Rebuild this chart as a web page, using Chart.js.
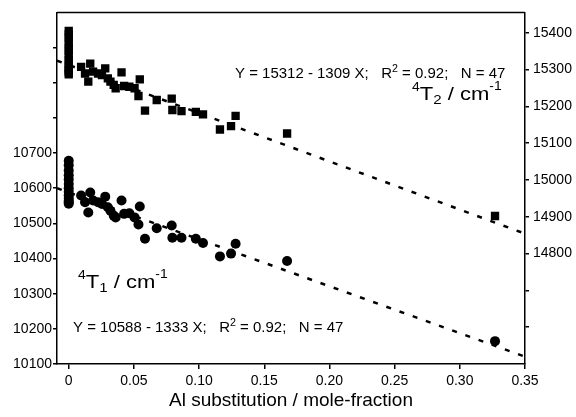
<!DOCTYPE html>
<html>
<head>
<meta charset="utf-8">
<script src="https://cdn.jsdelivr.net/npm/chart.js@4/dist/chart.umd.min.js"></script>
<style>
  html, body { margin: 0; padding: 0; background: #fff; }
</style>
</head>
<body>
<canvas id="myChart" width="576" height="417"></canvas>
<script>
// Al substitution (mole fraction) for each sample
var alX = [
    0, 0, 0, 0, 0, 0, 0, 0, 0, 0, 0, 0, 0,
    0.0095, 0.0125, 0.0150, 0.0165, 0.0187, 0.0225, 0.0255, 0.0280, 0.0300, 0.0320,
    0.0345, 0.0360, 0.0405, 0.0425, 0.0465, 0.0505, 0.0535, 0.0545, 0.0585, 0.0675,
    0.0790, 0.0795, 0.0865, 0.0975, 0.1030, 0.1160, 0.1245, 0.1280, 0.1675, 0.3270
];
// 4T2 band position, cm-1 (right axis, squares)
var t2 = [
    15405, 15395, 15385, 15372, 15360, 15350, 15338, 15325, 15315, 15305, 15298, 15292, 15287,
    15307, 15289, 15267, 15316, 15294, 15289, 15285, 15303, 15276, 15267,
    15258, 15249, 15292, 15255, 15253, 15249, 15228, 15273, 15188, 15217,
    15221, 15190, 15187, 15185, 15178, 15137, 15146, 15174, 15126, 14902
];
// 4T1 band position, cm-1 (left axis, circles)
var t1 = [
    10678, 10665, 10650, 10637, 10625, 10612, 10600, 10590, 10580, 10572, 10565, 10560, 10556,
    10579, 10560, 10531, 10588, 10565, 10560, 10555, 10576, 10546, 10536,
    10522, 10517, 10565, 10527, 10529, 10517, 10497, 10548, 10456, 10486,
    10494, 10459, 10459, 10456, 10444, 10406, 10414, 10442, 10393, 10165
];
// dashed fit lines, ends read at the plot edges
var fitX = [-0.009, 0.35];
var fitT2 = [15324, 14854];
var fitT1 = [10600, 10121];

var xTicks = [0, 0.05, 0.10, 0.15, 0.20, 0.25, 0.30, 0.35];
var leftTicks = [10100, 10200, 10300, 10400, 10500, 10600, 10700, 10800, 10900, 11000];
var leftLabelMax = 10700;
var rightTicks = [14600, 14700, 14800, 14900, 15000, 15100, 15200, 15300, 15400];
var rightLabelMin = 14800;

function pairs(xs, ys) {
    return xs.map(function (x, i) { return { x: x, y: ys[i] }; });
}

var FONT = "'Liberation Sans', Arial, sans-serif";

// text runs with sub/superscripts, slightly stretched like the scanned original
function drawRich(ctx, x, y, sx, parts) {
    ctx.save();
    ctx.translate(x, y);
    ctx.scale(sx, 1);
    var cx = 0;
    parts.forEach(function (p) {
        ctx.font = p[1] + 'px ' + FONT;
        ctx.fillText(p[0], cx, p[2]);
        cx += ctx.measureText(p[0]).width;
    });
    ctx.restore();
}

var labelsPlugin = {
    id: 'labels',
    afterDraw: function (chart) {
        var ctx = chart.ctx;
        var a = chart.chartArea;
        ctx.save();
        // top frame line
        ctx.strokeStyle = '#000';
        ctx.lineWidth = 1.5;
        ctx.beginPath();
        ctx.moveTo(a.left, a.top);
        ctx.lineTo(a.right, a.top);
        ctx.stroke();

        ctx.fillStyle = '#000';
        ctx.textBaseline = 'alphabetic';
        ctx.textAlign = 'left';
        drawRich(ctx, 235, 78, 1.07, [['Y = 15312 - 1309 X;   R', 14, 0], ['2', 10, -6], [' = 0.92;   N = 47', 14, 0]]);
        drawRich(ctx, 412, 100, 1.16, [['4', 12, -9], ['T', 19, 0], ['2', 13, 4], [' / cm', 19, 0], ['-1', 12, -10]]);
        drawRich(ctx, 78, 288, 1.16, [['4', 12, -9], ['T', 19, 0], ['1', 13, 4], [' / cm', 19, 0], ['-1', 12, -10]]);
        drawRich(ctx, 73, 332, 1.07, [['Y = 10588 - 1333 X;   R', 14, 0], ['2', 10, -6], [' = 0.92;   N = 47', 14, 0]]);
        ctx.restore();
    }
};

var ctx = document.getElementById('myChart').getContext('2d');

var myChart = new Chart(ctx, {
    type: 'scatter',
    data: {
        datasets: [{
            label: '4T2',
            data: pairs(alX, t2),
            yAxisID: 'y2',
            pointStyle: 'rect',
            pointRadius: 5.9,
            backgroundColor: '#000',
            borderColor: '#000',
            borderWidth: 0
        }, {
            label: '4T1',
            data: pairs(alX, t1),
            yAxisID: 'y',
            pointStyle: 'circle',
            pointRadius: 5,
            backgroundColor: '#000',
            borderColor: '#000',
            borderWidth: 0
        }, {
            type: 'line',
            label: 'fit 4T2',
            data: pairs(fitX, fitT2),
            yAxisID: 'y2',
            borderColor: '#000',
            borderWidth: 2.5,
            borderDash: [5, 9],
            pointRadius: 0,
            fill: false
        }, {
            type: 'line',
            label: 'fit 4T1',
            data: pairs(fitX, fitT1),
            yAxisID: 'y',
            borderColor: '#000',
            borderWidth: 2.5,
            borderDash: [5, 9],
            pointRadius: 0,
            fill: false
        }]
    },
    options: {
        responsive: false,
        animation: false,
        layout: { padding: { top: 12, left: 0, right: 0, bottom: 0 } },
        plugins: {
            legend: { display: false },
            tooltip: { enabled: false }
        },
        scales: {
            x: {
                type: 'linear',
                position: 'bottom',
                min: -0.009,
                max: 0.35,
                afterBuildTicks: function (s) { s.ticks = xTicks.map(function (v) { return { value: v }; }); },
                afterFit: function (s) { s.height = 53; },
                grid: { drawOnChartArea: false, drawTicks: true, tickLength: 5, color: '#000', lineWidth: 1.5 },
                border: { color: '#000', width: 1.5 },
                ticks: {
                    color: '#000',
                    font: { family: FONT, size: 14 },
                    padding: 4,
                    maxRotation: 0,
                    callback: function (v) { return v === 0 ? '0' : v.toFixed(2); }
                },
                title: {
                    display: true,
                    text: 'Al substitution / mole-fraction',
                    color: '#000',
                    font: { family: FONT, size: 19 },
                    padding: { top: 0, bottom: 5 }
                }
            },
            y: {
                type: 'linear',
                position: 'left',
                min: 10100,
                max: 11100,
                afterBuildTicks: function (s) { s.ticks = leftTicks.map(function (v) { return { value: v }; }); },
                afterFit: function (s) { s.width = 57; },
                grid: { drawOnChartArea: false, drawTicks: true, tickLength: 4, color: '#000', lineWidth: 1.5 },
                border: { color: '#000', width: 1.5 },
                ticks: {
                    color: '#000',
                    font: { family: FONT, size: 14 },
                    padding: 1,
                    callback: function (v) { return v <= leftLabelMax ? String(v) : ''; }
                }
            },
            y2: {
                type: 'linear',
                position: 'right',
                min: 14500,
                max: 15455,
                afterBuildTicks: function (s) { s.ticks = rightTicks.map(function (v) { return { value: v }; }); },
                afterFit: function (s) { s.width = 51; },
                grid: { drawOnChartArea: false, drawTicks: true, tickLength: 4, color: '#000', lineWidth: 1.5 },
                border: { color: '#000', width: 1.5 },
                ticks: {
                    color: '#000',
                    font: { family: FONT, size: 14 },
                    padding: 4,
                    callback: function (v) { return v >= rightLabelMin ? String(v) : ''; }
                }
            }
        }
    },
    plugins: [labelsPlugin]
});
</script>
</body>
</html>
